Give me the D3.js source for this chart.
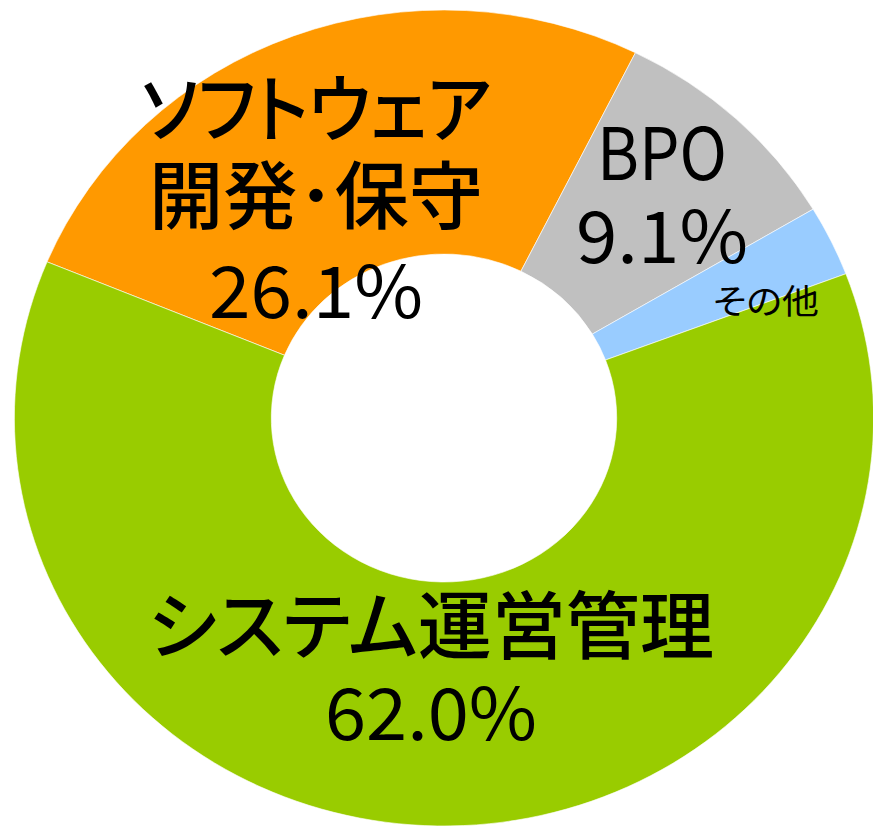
<!DOCTYPE html>
<meta charset="utf-8">
<script src="https://d3js.org/d3.v7.min.js"></script>
<style>
  body { margin: 0; background: #fff; }
  text { font-family: "Noto Sans CJK JP", "Noto Sans", sans-serif; fill: #000; }
</style>
<svg id="donut" width="873" height="827"></svg>
<script>

// data
var categories = ["ソフトウェア開発・保守", "BPO", "その他", "システム運営管理"];
var shares = [26.1, 9.1, 2.8, 62.0];
var colors = ["#ff9900", "#c0c0c0", "#99ccff", "#99cc00"];

// label text per slice (line breaks as in the original)
var labelLines = [["ソフトウェア", "開発･保守"], ["BPO"], ["その他"], ["システム運営管理"]];
var showPercent = [true, true, false, true];

// where each label block goes (layout only)
var labelLayout = [
  {x: 316, ys: [136, 223], py: 318, size: 74, bold: true, widths: [350, 334], pw: 214},
  {x: 662, ys: [180], py: 263, size: 72, bold: false, widths: [130], pw: 172},
  {x: 766, ys: [314], py: 0, size: 34, bold: false, widths: [106], pw: 0},
  {x: 431, ys: [653], py: 740, size: 74, bold: true, widths: [566], pw: 212}
];

var svg = d3.select("#donut");

// the original picture is a bit wider than tall
var cx = 444, cy = 418, sx = 1.053;
var outerR = 408, innerR = 164;

var data = categories.map(function(c, i) { return {name: c, value: shares[i], i: i}; });

var pie = d3.pie()
  .value(function(d) { return d.value; })
  .sort(null)
  .startAngle(-67.5 * Math.PI / 180)
  .endAngle((360 - 67.5) * Math.PI / 180);

var arc = d3.arc().innerRadius(innerR).outerRadius(outerR);

var color = d3.scaleOrdinal().domain(categories).range(colors);

svg.append("g")
  .attr("transform", "translate(" + cx + "," + cy + ") scale(" + sx + ",1)")
  .selectAll("path")
  .data(pie(data))
  .enter()
  .append("path")
    .attr("d", arc)
    .attr("fill", function(d) { return color(d.data.name); })
    .attr("stroke", "#fff")
    .attr("stroke-width", 0.6);

// labels
var fmt = d3.format(".1f");
var labels = svg.append("g");

data.forEach(function(d, i) {
  var L = labelLayout[i];
  labelLines[i].forEach(function(line, j) {
    labels.append("text")
      .attr("x", L.x)
      .attr("y", L.ys[j])
      .attr("text-anchor", "middle")
      .attr("font-size", L.size)
      .attr("font-weight", L.bold ? 500 : 400)
      .style("font-feature-settings", "'palt'")
      .attr("textLength", L.widths[j])
      .attr("lengthAdjust", "spacingAndGlyphs")
      .text(line);
  });
  if (showPercent[i]) {
    labels.append("text")
      .attr("x", L.x)
      .attr("y", L.py)
      .attr("text-anchor", "middle")
      .attr("font-size", 72)
      .attr("font-weight", 400)
      .attr("textLength", L.pw)
      .attr("lengthAdjust", "spacingAndGlyphs")
      .text(fmt(d.value) + "%");
  }
});

</script>
